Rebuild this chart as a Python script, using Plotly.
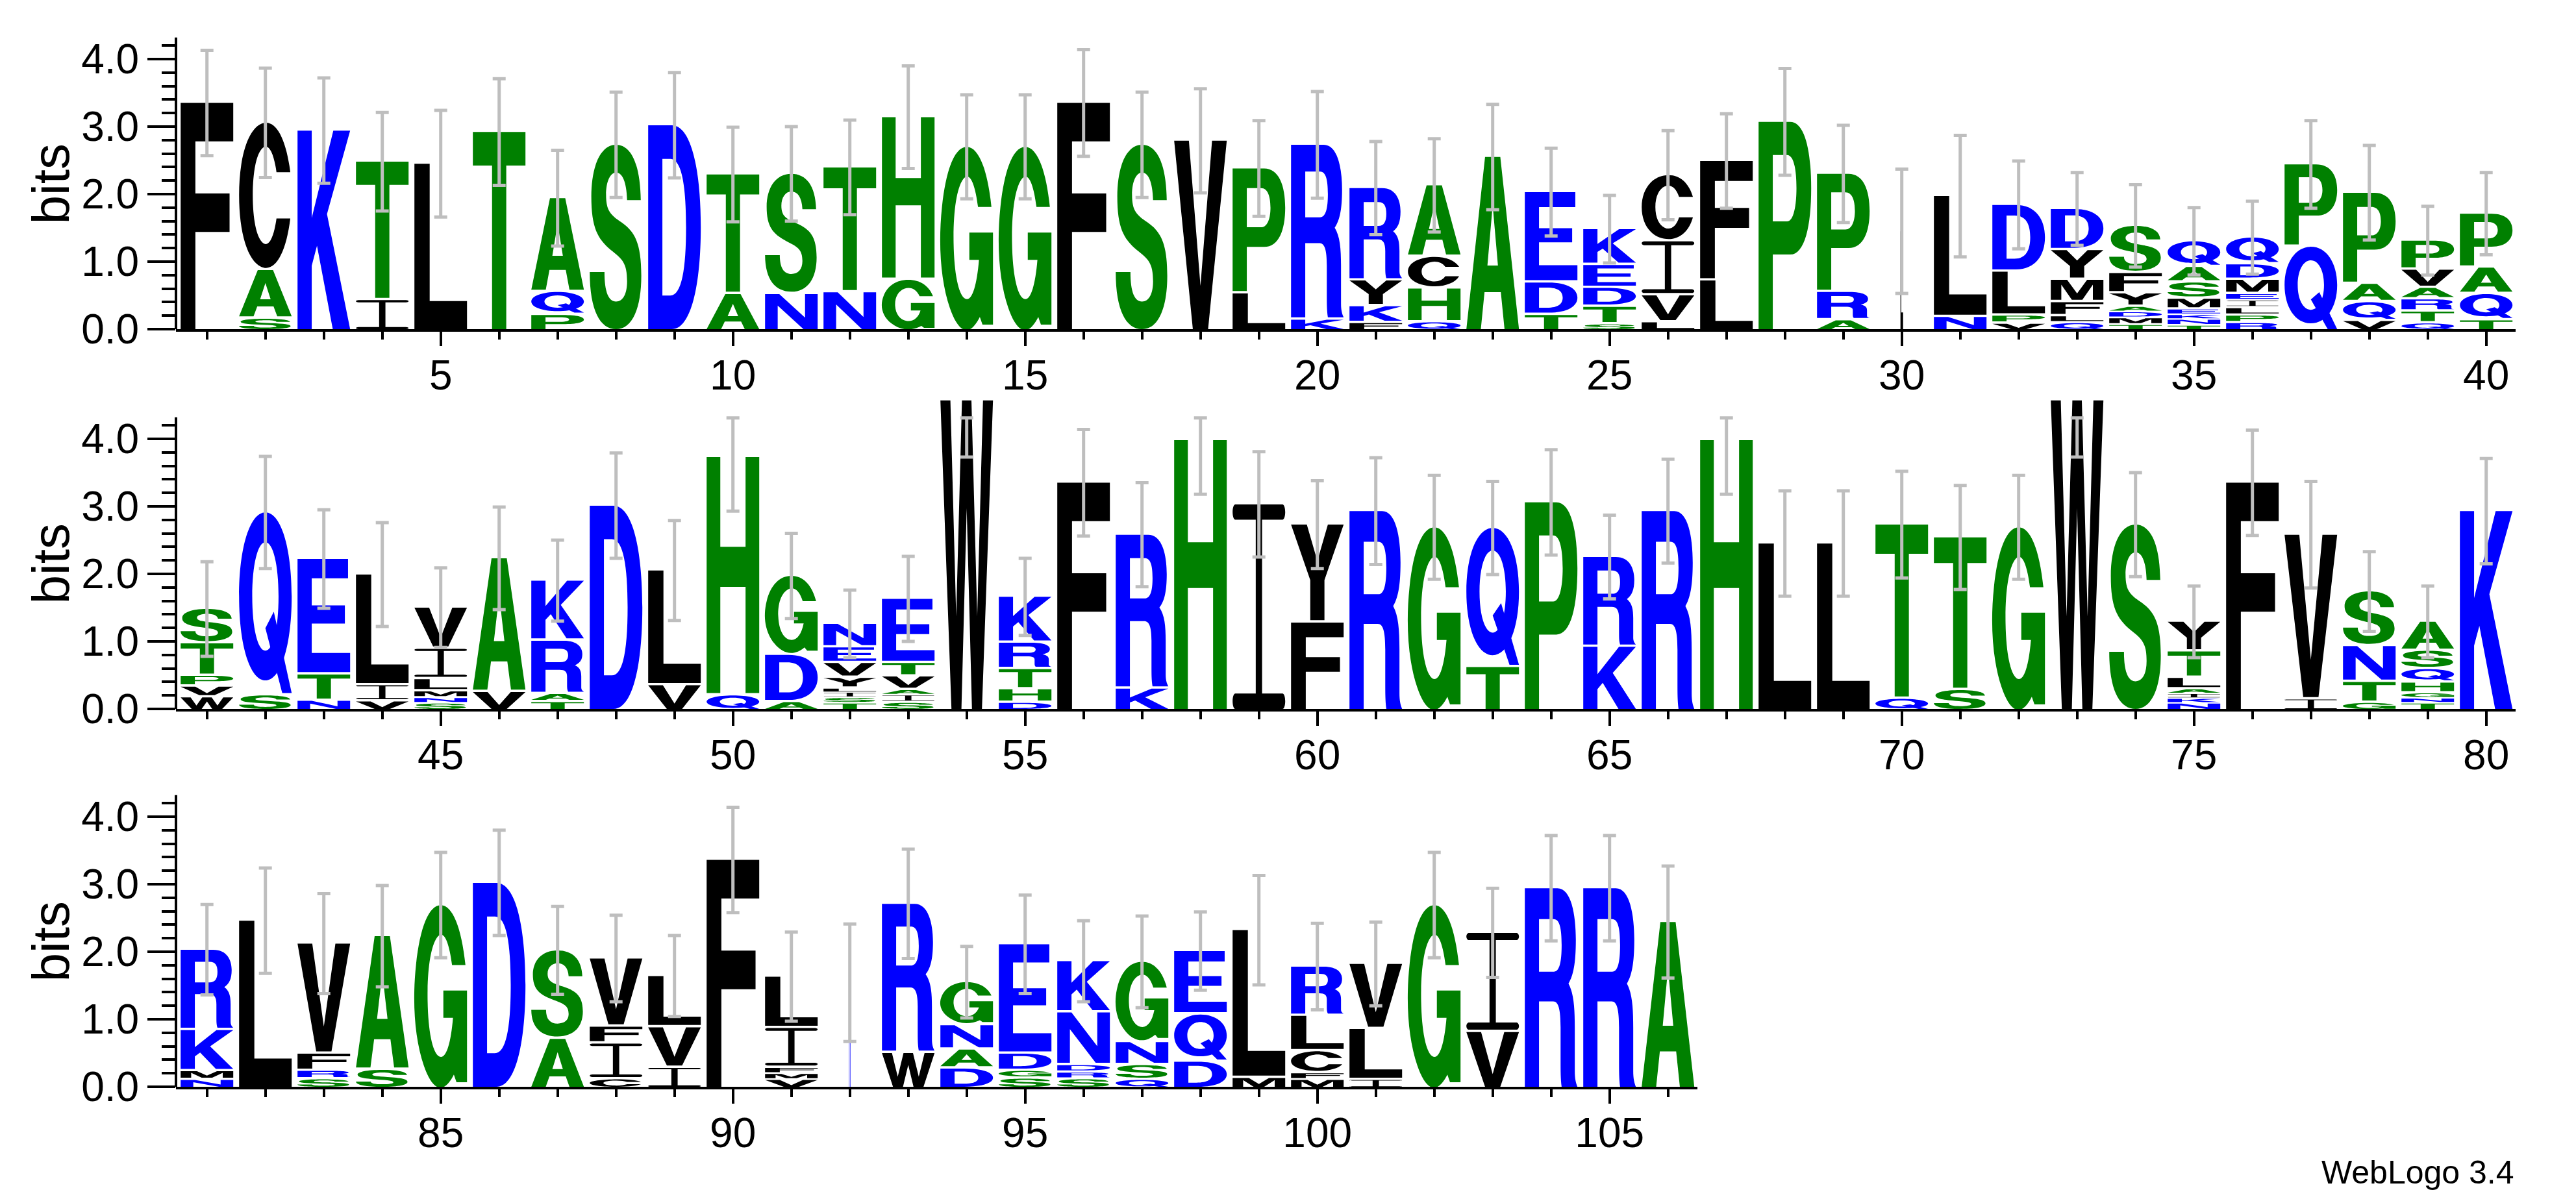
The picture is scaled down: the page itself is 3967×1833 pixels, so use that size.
import math
import plotly.graph_objects as go

# ------------------------------------------------------------------ data
positions = list(range(1, 107))

# letters of each stack, listed from the top of the stack to the bottom
stack_letters = [
    "F", "CAS", "K", "TI", "L", "T", "AQP", "S", "D", "TA",
    "SN", "TN", "HG", "G", "G", "F", "S", "V", "PL", "RK",
    "RYKF", "ACHQ", "A", "EDT", "KEDTS", "CIVL", "FL", "P", "PRA", "L",
    "LN", "DLPV", "DYMFLQ", "SFYADMT", "QASMEKNT", "QDMEILPR", "PQ", "PAQV", "PVARTQ", "PAQT",
    "STPVW", "QS", "ETN", "LIV", "VILMNS", "AV", "KRAT", "D", "LV", "HQ",
    "GDA", "NEVYLIST", "ETVAIS", "W", "KRTHD", "F", "RK", "H", "I", "YF",
    "R", "G", "QT", "P", "RK", "R", "H", "L", "L", "TQ",
    "TS", "G", "W", "S", "YTLAIKN", "F", "VI", "SNTG", "ASQHGNT", "K",
    "RKMN", "L", "VFRS", "AS", "G", "D", "SA", "VFIC", "LVI", "F",
    "LIFMV", "R", "RW", "GNAD", "EDGS", "KNDRS", "GNSQ", "EQD", "LM", "RLCFM",
    "VLI", "G", "IV", "R", "R", "A",
]

# information content (bits) of each letter, same order as stack_letters
stack_bits = [
    [3.35], [2.18, 0.72, 0.155], [2.94], [2.05, 0.43], [2.45], [2.92], [1.39, 0.34, 0.21], [2.73], [3.02], [1.77, 0.52],
    [1.78, 0.52], [1.85, 0.545], [2.41, 0.73], [2.70], [2.70], [3.35], [2.73], [2.79], [1.85, 0.53], [2.59, 0.14],
    [1.37, 0.38, 0.25, 0.09], [1.06, 0.47, 0.50, 0.10], [2.55], [1.34, 0.48, 0.21], [0.53, 0.34, 0.28, 0.26, 0.07],
    [0.98, 0.80, 0.40, 0.10], [1.77, 0.72], [3.07], [1.75, 0.42, 0.13], [1.45],
    [1.79, 0.18], [0.99, 0.65, 0.12, 0.08], [0.61, 0.44, 0.33, 0.21, 0.10, 0.09],
    [0.70, 0.30, 0.20, 0.08, 0.09, 0.10, 0.06], [0.38, 0.23, 0.24, 0.16, 0.08, 0.07, 0.09, 0.05],
    [0.395, 0.23, 0.21, 0.10, 0.11, 0.11, 0.11, 0.09], [1.22, 1.22], [1.35, 0.27, 0.28, 0.12],
    [0.43, 0.27, 0.17, 0.18, 0.175, 0.085], [0.80, 0.39, 0.39, 0.13],
    [0.51, 0.48, 0.16, 0.16, 0.17], [2.71, 0.20], [1.71, 0.39, 0.12], [1.64, 0.24, 0.11],
    [0.61, 0.45, 0.18, 0.10, 0.08, 0.08], [1.98, 0.25], [0.89, 0.79, 0.12, 0.10], [3.01], [1.70, 0.35], [3.53, 0.20],
    [1.17, 0.70, 0.10], [0.35, 0.23, 0.22, 0.16, 0.06, 0.08, 0.08, 0.08], [0.95, 0.20, 0.20, 0.08, 0.11, 0.09],
    [4.57], [0.68, 0.39, 0.30, 0.20, 0.09], [3.35], [2.28, 0.30], [3.98], [3.03], [1.45, 1.28],
    [2.93], [2.69], [2.06, 0.62], [3.06], [1.33, 0.92], [2.93], [3.98], [2.45], [2.45], [2.58, 0.15],
    [2.26, 0.28], [2.69], [4.57], [2.73], [0.44, 0.39, 0.17, 0.07, 0.07, 0.07, 0.08], [3.35], [2.44, 0.14],
    [0.81, 0.53, 0.31, 0.09], [0.43, 0.27, 0.20, 0.16, 0.075, 0.075, 0.08], [2.93],
    [1.19, 0.61, 0.13, 0.10], [2.46], [1.63, 0.255, 0.125, 0.11], [1.98, 0.25], [2.69], [3.02], [1.31, 0.71],
    [1.01, 0.25, 0.53, 0.11], [0.76, 0.60, 0.28], [3.36],
    [0.76, 0.59, 0.09, 0.09, 0.10], [1.54], [2.21, 0.50], [0.64, 0.36, 0.28, 0.27], [1.62, 0.255, 0.115, 0.12],
    [0.76, 0.78, 0.11, 0.10, 0.11], [1.19, 0.34, 0.22, 0.10], [0.94, 0.70, 0.37], [2.19, 0.13],
    [0.73, 0.525, 0.325, 0.10, 0.10],
    [0.965, 0.755, 0.10], [2.69], [1.47, 0.81], [2.94], [2.94], [2.44],
]

# half-length of the error bar of each stack (bits)
error_bits = [
    0.78, 0.81, 0.78, 0.73, 0.79, 0.79, 0.71, 0.78, 0.78, 0.70,
    0.70, 0.70, 0.76, 0.77, 0.77, 0.79, 0.78, 0.77, 0.71, 0.79,
    0.69, 0.69, 0.78, 0.65, 0.50, 0.66, 0.70, 0.79, 0.72, 0.92,
    0.90, 0.65, 0.54, 0.61, 0.50, 0.54, 0.65, 0.70, 0.51, 0.61,
    0.70, 0.83, 0.73, 0.77, 0.59, 0.76, 0.60, 0.78, 0.74, 0.80,
    0.63, 0.50, 0.63, 0.84, 0.57, 0.79, 0.77, 0.80, 0.78, 0.65,
    0.79, 0.77, 0.69, 0.78, 0.62, 0.77, 0.80, 0.78, 0.78, 0.79,
    0.77, 0.77, 0.84, 0.77, 0.53, 0.78, 0.79, 0.59, 0.53, 0.78,
    0.67, 0.78, 0.74, 0.75, 0.78, 0.78, 0.65, 0.64, 0.60, 0.78,
    0.66, 0.87, 0.81, 0.53, 0.73, 0.60, 0.68, 0.58, 0.81, 0.64,
    0.62, 0.78, 0.66, 0.78, 0.78, 0.83,
]

# stacks drawn narrow (mostly gaps in the alignment): fraction of a column
narrow_stacks = {30: 0.045, 92: 0.025}

row_ranges = [(0.47, 40.5), (40.47, 80.5), (80.47, 106.5)]
row_last = [40, 80, 106]
y_major_ticks = [0, 1, 2, 3, 4]
y_minor_ticks = [round(0.2 * k, 1) for k in range(1, 22) if k % 5 != 0]
y_axis_top = 4.32
y_clip = 4.31

assert len(stack_letters) == len(stack_bits) == len(error_bits) == len(positions)
for s, b in zip(stack_letters, stack_bits):
    assert len(s) == len(b), (s, b)

# ------------------------------------------------------------------ styles
GREEN, BLUE, BLACK = "#008000", "#0000ff", "#000000"
COLOR = {}
for c in "AGHPST":
    COLOR[c] = GREEN
for c in "DEKNQR":
    COLOR[c] = BLUE
for c in "CFILMVWY":
    COLOR[c] = BLACK

FONT = "Liberation Sans, Arial, Helvetica, sans-serif"
LETTER_WIDTH = 0.9
LETTER_GAP = 0.035

# ------------------------------------------------------------------ glyph outlines (unit box)
def poly(pts):
    return [("M",) + tuple(pts[0])] + [("L",) + tuple(p) for p in pts[1:]] + [("Z",)]


def ept(cx, cy, rx, ry, a):
    t = math.radians(a)
    return (cx + rx * math.cos(t), cy + ry * math.sin(t))


def arc(cx, cy, rx, ry, a0, a1, sq=1.0):
    n = max(1, int(math.ceil(abs(a1 - a0) / 90.0 - 1e-9)))
    step = (a1 - a0) / n
    out = []
    for i in range(n):
        t0 = math.radians(a0 + i * step)
        t1 = math.radians(a0 + (i + 1) * step)
        k = 4.0 / 3.0 * math.tan((t1 - t0) / 4.0) * sq
        x0, y0 = cx + rx * math.cos(t0), cy + ry * math.sin(t0)
        x3, y3 = cx + rx * math.cos(t1), cy + ry * math.sin(t1)
        out.append(("C", x0 - k * rx * math.sin(t0), y0 + k * ry * math.cos(t0),
                    x3 + k * rx * math.sin(t1), y3 - k * ry * math.cos(t1), x3, y3))
    return out


def ellipse(cx, cy, rx, ry, sq=1.0, reverse=False):
    if reverse:
        return [("M",) + ept(cx, cy, rx, ry, 360)] + arc(cx, cy, rx, ry, 360, 0, sq) + [("Z",)]
    return [("M",) + ept(cx, cy, rx, ry, 0)] + arc(cx, cy, rx, ry, 0, 360, sq) + [("Z",)]


SQ = 1.06
GLYPHS = {}

GLYPHS["A"] = [[poly([(0, 0), (0.355, 1), (0.645, 1), (1, 0), (0.725, 0), (0.655, 0.215),
                      (0.345, 0.215), (0.275, 0)]),
                poly([(0.40, 0.37), (0.60, 0.37), (0.50, 0.72)])]]

ao = math.degrees(math.asin(0.16 / 0.5))
ai = math.degrees(math.asin(0.16 / 0.335))
GLYPHS["C"] = [[[("M",) + ept(.5, .5, .5, .5, ao)] + arc(.5, .5, .5, .5, ao, 360 - ao, SQ)
                + [("L",) + ept(.5, .5, .24, .335, 360 - ai)] + arc(.5, .5, .24, .335, 360 - ai, ai, SQ)
                + [("Z",)]]]

GLYPHS["D"] = [[[("M", 0, 0), ("L", 0, 1), ("L", 0.45, 1), ("C", 0.82, 1, 1, 0.78, 1, 0.5),
                 ("C", 1, 0.22, 0.82, 0, 0.45, 0), ("Z",)],
                [("M", 0.27, 0.165), ("L", 0.42, 0.165), ("C", 0.64, 0.165, 0.72, 0.3, 0.72, 0.5),
                 ("C", 0.72, 0.7, 0.64, 0.835, 0.42, 0.835), ("L", 0.27, 0.835), ("Z",)]]]

GLYPHS["E"] = [[poly([(0, 0), (0, 1), (0.96, 1), (0.96, 0.83), (0.27, 0.83), (0.27, 0.59), (0.9, 0.59),
                      (0.9, 0.43), (0.27, 0.43), (0.27, 0.17), (1, 0.17), (1, 0)])]]

GLYPHS["F"] = [[poly([(0, 0), (0, 1), (1, 1), (1, 0.83), (0.28, 0.83), (0.28, 0.6), (0.93, 0.6),
                      (0.93, 0.43), (0.28, 0.43), (0.28, 0)])]]

go_ = math.degrees(math.asin(0.17 / 0.5))
gi = math.degrees(math.asin(0.17 / 0.335))
gb = 360 + math.degrees(math.asin(-0.12 / 0.335))
GLYPHS["G"] = [[[("M",) + ept(.5, .5, .5, .5, go_)] + arc(.5, .5, .5, .5, go_, 300, SQ)
                + [("L", 0.80, 0.025), ("L", 1.0, 0.025), ("L", 1.0, 0.53), ("L", 0.55, 0.53),
                   ("L", 0.55, 0.38), ("L",) + ept(.5, .5, .25, .335, gb)]
                + arc(.5, .5, .25, .335, gb, gi, SQ) + [("Z",)]]]

GLYPHS["H"] = [[poly([(0, 0), (0, 1), (0.26, 1), (0.26, 0.62), (0.74, 0.62), (0.74, 1), (1, 1), (1, 0),
                      (0.74, 0), (0.74, 0.45), (0.26, 0.45), (0.26, 0)])]]

GLYPHS["I"] = [[[("M", 0.05, 0), ("L", 0.95, 0), ("C", 0.978, 0, 1, 0.017, 1, 0.0375),
                 ("C", 1, 0.058, 0.978, 0.075, 0.95, 0.075), ("L", 0.56, 0.075), ("L", 0.56, 0.925),
                 ("L", 0.95, 0.925), ("C", 0.978, 0.925, 1, 0.942, 1, 0.9625),
                 ("C", 1, 0.983, 0.978, 1, 0.95, 1), ("L", 0.05, 1), ("C", 0.022, 1, 0, 0.983, 0, 0.9625),
                 ("C", 0, 0.942, 0.022, 0.925, 0.05, 0.925), ("L", 0.44, 0.925), ("L", 0.44, 0.075),
                 ("L", 0.05, 0.075), ("C", 0.022, 0.075, 0, 0.058, 0, 0.0375),
                 ("C", 0, 0.017, 0.022, 0, 0.05, 0), ("Z",)]]]

GLYPHS["K"] = [[poly([(0, 0), (0, 1), (0.27, 1), (0.27, 0.56), (0.68, 1), (1, 1), (0.56, 0.58), (1, 0),
                      (0.67, 0), (0.37, 0.42), (0.27, 0.32), (0.27, 0)])]]

GLYPHS["L"] = [[poly([(0, 0), (0, 1), (0.29, 1), (0.29, 0.17), (1, 0.17), (1, 0)])]]

GLYPHS["M"] = [[poly([(0, 0), (0, 1), (0.31, 1), (0.5, 0.32), (0.69, 1), (1, 1), (1, 0), (0.8, 0),
                      (0.8, 0.76), (0.6, 0), (0.4, 0), (0.2, 0.76), (0.2, 0)])]]

GLYPHS["N"] = [[poly([(0, 0), (0, 1), (0.27, 1), (0.76, 0.33), (0.76, 1), (1, 1), (1, 0), (0.73, 0),
                      (0.24, 0.67), (0.24, 0)])]]

GLYPHS["P"] = [[[("M", 0, 0), ("L", 0, 1), ("L", 0.6, 1), ("C", 0.88, 1, 1, 0.86, 1, 0.68),
                 ("C", 1, 0.5, 0.88, 0.36, 0.6, 0.36), ("L", 0.27, 0.36), ("L", 0.27, 0), ("Z",)],
                [("M", 0.27, 0.52), ("L", 0.54, 0.52), ("C", 0.67, 0.52, 0.72, 0.6, 0.72, 0.68),
                 ("C", 0.72, 0.77, 0.67, 0.84, 0.54, 0.84), ("L", 0.27, 0.84), ("Z",)]]]

GLYPHS["Q"] = [[ellipse(0.5, 0.535, 0.5, 0.465, SQ), ellipse(0.5, 0.535, 0.25, 0.30, SQ, reverse=True)],
               [poly([(0.50, 0.36), (0.66, 0.45), (1.0, 0.0), (0.82, 0.0)])]]

GLYPHS["R"] = [[[("M", 0, 0), ("L", 0, 1), ("L", 0.62, 1), ("C", 0.88, 1, 0.97, 0.87, 0.97, 0.74),
                 ("C", 0.97, 0.62, 0.92, 0.56, 0.83, 0.52), ("C", 0.93, 0.47, 0.95, 0.40, 0.95, 0.30),
                 ("L", 0.95, 0.08), ("C", 0.95, 0.04, 0.97, 0.02, 1, 0), ("L", 0.7, 0),
                 ("C", 0.68, 0.04, 0.68, 0.08, 0.68, 0.14), ("L", 0.68, 0.30),
                 ("C", 0.68, 0.39, 0.64, 0.43, 0.54, 0.43), ("L", 0.27, 0.43), ("L", 0.27, 0), ("Z",)],
                [("M", 0.27, 0.58), ("L", 0.55, 0.58), ("C", 0.66, 0.58, 0.70, 0.63, 0.70, 0.715),
                 ("C", 0.70, 0.80, 0.66, 0.845, 0.55, 0.845), ("L", 0.27, 0.845), ("Z",)]]]

GLYPHS["S"] = [[[("M", 0.97, 0.70),
                 ("C", 0.96, 0.90, 0.78, 1.00, 0.50, 1.00),
                 ("C", 0.20, 1.00, 0.03, 0.88, 0.03, 0.72),
                 ("C", 0.03, 0.55, 0.15, 0.49, 0.40, 0.43),
                 ("C", 0.62, 0.38, 0.71, 0.36, 0.71, 0.26),
                 ("C", 0.71, 0.19, 0.63, 0.15, 0.50, 0.15),
                 ("C", 0.36, 0.15, 0.28, 0.20, 0.28, 0.31),
                 ("L", 0.00, 0.31),
                 ("C", 0.00, 0.10, 0.20, 0.00, 0.50, 0.00),
                 ("C", 0.82, 0.00, 0.98, 0.12, 0.98, 0.29),
                 ("C", 0.98, 0.47, 0.85, 0.53, 0.60, 0.58),
                 ("C", 0.40, 0.62, 0.31, 0.64, 0.31, 0.73),
                 ("C", 0.31, 0.80, 0.39, 0.85, 0.50, 0.85),
                 ("C", 0.62, 0.85, 0.70, 0.80, 0.71, 0.70),
                 ("Z",)]]]

GLYPHS["T"] = [[poly([(0, 1), (1, 1), (1, 0.83), (0.635, 0.83), (0.635, 0), (0.365, 0), (0.365, 0.83),
                      (0, 0.83)])]]

GLYPHS["V"] = [[poly([(0, 1), (0.28, 1), (0.5, 0.23), (0.72, 1), (1, 1), (0.645, 0), (0.355, 0)])]]

GLYPHS["W"] = [[poly([(0, 1), (0.19, 1), (0.3, 0.3), (0.41, 1), (0.59, 1), (0.7, 0.3), (0.81, 1), (1, 1),
                      (0.79, 0), (0.6, 0), (0.5, 0.65), (0.4, 0), (0.21, 0)])]]

GLYPHS["Y"] = [[poly([(0, 1), (0.3, 1), (0.5, 0.62), (0.7, 1), (1, 1), (0.635, 0.42), (0.635, 0),
                      (0.365, 0), (0.365, 0.42)])]]


def render(contours, xc, y0, w, h):
    def X(u):
        return "%.5f" % (xc + (u - 0.5) * w)

    def Y(v):
        return "%.5f" % (y0 + v * h)

    parts = []
    for con in contours:
        for seg in con:
            cmd = seg[0]
            if cmd in ("M", "L"):
                parts.append("%s%s,%s" % (cmd, X(seg[1]), Y(seg[2])))
            elif cmd == "C":
                parts.append("C%s,%s %s,%s %s,%s" % (X(seg[1]), Y(seg[2]), X(seg[3]), Y(seg[4]),
                                                      X(seg[5]), Y(seg[6])))
            else:
                parts.append("Z")
    return "".join(parts)


def row_of(p):
    for r, last in enumerate(row_last):
        if p <= last:
            return r
    return len(row_last) - 1


AX = [("x", "y"), ("x2", "y2"), ("x3", "y3")]

# ------------------------------------------------------------------ letters
shapes = []
for i, p in enumerate(positions):
    r = row_of(p)
    xr, yr = AX[r]
    w = narrow_stacks.get(p, LETTER_WIDTH)
    y = 0.0
    for ch, h in reversed(list(zip(stack_letters[i], stack_bits[i]))):
        gap = 0.0 if y == 0 else min(LETTER_GAP, 0.3 * h)
        for part in GLYPHS[ch]:
            shapes.append(dict(type="path", path=render(part, p, y + gap, w, h - gap),
                               xref=xr, yref=yr, fillcolor=COLOR[ch], line=dict(width=0),
                               layer="below", fillrule="evenodd"))
        y += h

# y axis lines (stop at log2(20) like the original)
for r in range(3):
    xr, yr = AX[r]
    shapes.append(dict(type="line", xref=xr + " domain", yref=yr, x0=0, x1=0, y0=0, y1=y_axis_top,
                       line=dict(color="black", width=4), layer="above"))

# ------------------------------------------------------------------ error bars
fig = go.Figure()
for r in range(3):
    xr, yr = AX[r]
    xs, base, plus, minus = [], [], [], []
    for i, p in enumerate(positions):
        if row_of(p) != r:
            continue
        total = sum(stack_bits[i])
        err = error_bits[i]
        b = min(total, y_clip)
        xs.append(p)
        base.append(b)
        plus.append(max(0.0, min(err, y_clip - b)))
        minus.append(err - (total - b))
    fig.add_trace(go.Scatter(
        x=xs, y=base, mode="markers", xaxis=xr, yaxis=yr,
        marker=dict(color="rgba(0,0,0,0)", size=1),
        error_y=dict(type="data", symmetric=False, array=plus, arrayminus=minus,
                     color="#bebebe", thickness=5, width=10),
        hoverinfo="skip", showlegend=False))

# ------------------------------------------------------------------ layout
W, H = 3967, 1833
x_left = 263 / W
px_per_pos = 90.0
baselines = [499, 1084, 1666]
px_per_bit = 104.0
y_range = [0, 4.65]

layout = dict(width=W, height=H, margin=dict(l=0, r=0, t=0, b=0),
              paper_bgcolor="white", plot_bgcolor="white", showlegend=False,
              hovermode=False, font=dict(family=FONT, color="black"), shapes=shapes)

annotations = []
for r in range(3):
    lo, hi = row_ranges[r]
    x_right = x_left + (hi - lo) * px_per_pos / W
    y0 = 1 - baselines[r] / H
    y1 = y0 + (y_range[1] - y_range[0]) * px_per_bit / H
    sx = "" if r == 0 else str(r + 1)
    layout["xaxis" + sx] = dict(
        domain=[x_left, x_right], range=[lo, hi], anchor="y" + sx,
        showline=True, linecolor="black", linewidth=4, showgrid=False, zeroline=False,
        ticks="outside", ticklen=22, tickwidth=4, tickcolor="black",
        tickmode="linear", tick0=0, dtick=5,
        minor=dict(ticks="outside", ticklen=12, tickwidth=4, tickcolor="black", tick0=0, dtick=1),
        tickfont=dict(family=FONT, size=64, color="black"), ticklabelstandoff=-10,
        automargin=False, fixedrange=True)
    layout["yaxis" + sx] = dict(
        domain=[y0, y1], range=y_range, anchor="x" + sx,
        showline=False, showgrid=False, zeroline=False,
        ticks="outside", ticklen=43, tickwidth=4, tickcolor="black",
        tickmode="array", tickvals=y_major_ticks, tickformat=".1f",
        minor=dict(tickmode="array", tickvals=y_minor_ticks, ticks="outside", ticklen=21,
                   tickwidth=4, tickcolor="black"),
        tickfont=dict(family=FONT, size=64, color="black"),
        automargin=False, fixedrange=True)
    annotations.append(dict(text="bits", xref="paper", yref="y" + sx, x=70 / W, y=2.15,
                            textangle=-90, showarrow=False, xanchor="center", yanchor="middle",
                            font=dict(family=FONT, size=80, color="black")))

annotations.append(dict(text="WebLogo 3.4", xref="paper", yref="paper", x=3866 / W, y=1 - 1798 / H,
                        xanchor="right", yanchor="middle", showarrow=False,
                        font=dict(family=FONT, size=50, color="black")))
layout["annotations"] = annotations

fig.update_layout(**layout)
fig.write_html("out.html")
